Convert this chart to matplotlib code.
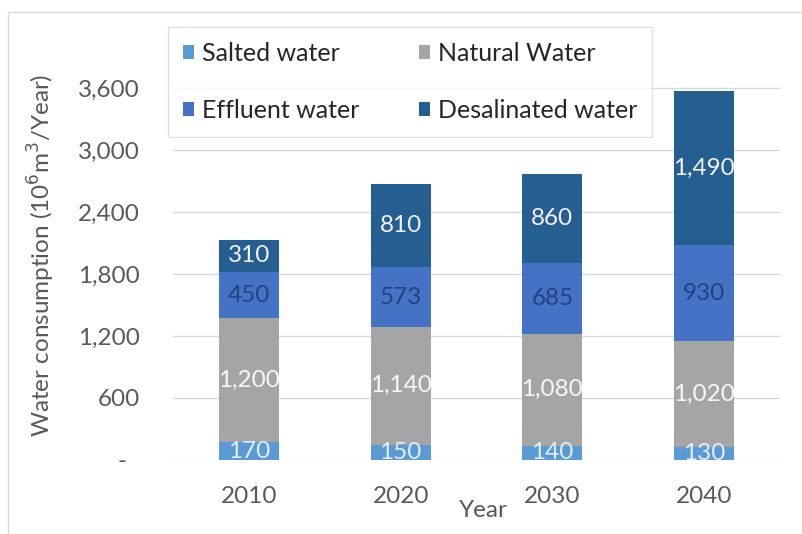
import matplotlib
matplotlib.use("Agg")
import matplotlib.pyplot as plt
from matplotlib.patches import Rectangle
from matplotlib.ticker import FuncFormatter

years = ["2010", "2020", "2030", "2040"]
salted = [170, 150, 140, 130]
natural = [1200, 1140, 1080, 1020]
effluent = [450, 573, 685, 930]
desalinated = [310, 810, 860, 1490]
series_names = ["Salted water", "Natural Water", "Effluent water", "Desalinated water"]
y_ticks = [0, 600, 1200, 1800, 2400, 3000, 3600]

colors = ["#5B9BD5", "#A5A5A5", "#4472C4", "#255E91"]
label_colors = ["#E2EEFA", "#F7F7F7", "#24427E", "#F2F2F2"]

plt.rcParams['font.family'] = ['Lato', 'DejaVu Sans']

W, H = 802, 534
fig = plt.figure(figsize=(W / 100, H / 100), dpi=100)

# outer border (left and top edges visible)
fig.patches.append(Rectangle((8 / W, -0.1), 1.2, 1 - 12 / H + 0.1, transform=fig.transFigure,
                             fill=False, edgecolor="#D9D9D9", linewidth=1.0))

ax_left, ax_right, ax_bottom, ax_top = 173, 780, 460, 26
ax = fig.add_axes([ax_left / W, 1 - ax_bottom / H, (ax_right - ax_left) / W, (ax_bottom - ax_top) / H])

series = [salted, natural, effluent, desalinated]
x = list(range(len(years)))
bottoms = [0] * len(years)
handles = []
width = 0.395
for s, name, c, lc in zip(series, series_names, colors, label_colors):
    bars = ax.bar(x, s, width, bottom=bottoms, color=c, label=name, zorder=2)
    handles.append(bars)
    for rect, v, b in zip(bars, s, bottoms):
        t = ax.text(rect.get_x() + rect.get_width() / 2, b + v / 2, f"{v:,}",
                    ha="center", va="center", color=lc, fontsize=17.5, zorder=3)
        t.set_clip_path(rect)
    bottoms = [b + v for b, v in zip(bottoms, s)]

ax.set_xlim(-0.5, 3.5)
ax.set_ylim(0, 4200)
ax.set_yticks(y_ticks)
ax.yaxis.set_major_formatter(FuncFormatter(lambda v, p: "-  " if v == 0 else f"{int(v):,}"))
ax.set_xticks(x)
ax.set_xticklabels(years)
ax.tick_params(axis="both", length=0, labelsize=17.5, labelcolor="#595959")
ax.tick_params(axis="y", pad=24)
ax.tick_params(axis="x", pad=19)
ax.grid(axis="y", color="#D9D9D9", linewidth=1.0, zorder=0)
for sp in ax.spines.values():
    sp.set_visible(False)

ax.set_xlabel("Year", fontsize=17.5, color="#595959")
ax.xaxis.set_label_coords((483 - ax_left) / (ax_right - ax_left), -(500 - ax_bottom) / (ax_bottom - ax_top))
ax.set_ylabel("Water consumption (10$^6$m$^3$/Year)", fontsize=17.5, color="#595959")
ax.yaxis.set_label_coords(-(ax_left - 57) / (ax_right - ax_left), 0.472)

order = [handles[0], handles[2], handles[1], handles[3]]
names = [series_names[0], series_names[2], series_names[1], series_names[3]]
leg = fig.legend(order, names, ncol=2, loc="upper left",
                 bbox_to_anchor=(168 / W, 1 - 27 / H), bbox_transform=fig.transFigure,
                 fontsize=18, frameon=True, fancybox=False, edgecolor="#D9D9D9",
                 handlelength=0.45, handleheight=0.45, handletextpad=0.3,
                 labelspacing=1.35, columnspacing=2.4, borderpad=0.6, borderaxespad=0)
leg.get_frame().set_linewidth(1.0)
for t in leg.get_texts():
    t.set_color("#262626")

fig.savefig("out.png", dpi=100)
